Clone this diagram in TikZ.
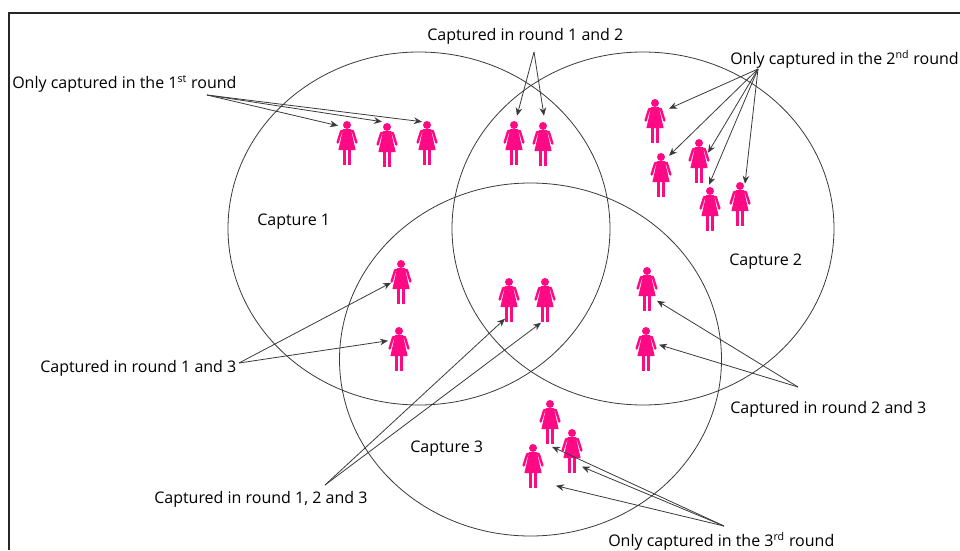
\documentclass[tikz,border=0pt]{standalone}
\usepackage{fontspec}
\setmainfont{Open Sans}
\usepackage{tikz}
\usetikzlibrary{shapes.geometric, arrows.meta, positioning}
\definecolor{womanpink}{HTML}{FF0A84}
\definecolor{lineink}{HTML}{3A3A3A}

\begin{document}
\begin{tikzpicture}[
        x=0.75pt, y=-0.75pt,
        capture/.style={ellipse, draw=lineink, line width=0.6pt, inner sep=0pt, minimum width=286.5pt, minimum height=264.75pt},
        label/.style={inner sep=0pt, anchor=west, font=\fontsize{12}{14}\selectfont},
        woman/.style={inner sep=0pt, minimum width=16.5pt, minimum height=33pt, path picture={
            \fill[womanpink] (0,-18) circle (4);
            \fill[womanpink] (-4,-13.8) -- (4,-13.8) -- (5,-9) -- (8.6,7) -- (-8.6,7) -- (-5,-9) -- cycle;
            \fill[womanpink] (-4.2,7) rectangle (-0.7,22);
            \fill[womanpink] (0.7,7) rectangle (4.2,22);
            \draw[womanpink, line width=1.8pt, line cap=round, line join=round] (-9.4,-0.5) -- (-5.8,-12) -- (5.8,-12) -- (9.4,-0.5);
        }},
        link/.style={->, draw=lineink, line width=0.6pt},
        >={Stealth[length=6pt, width=5pt]}
    ]

    \useasboundingbox (0,0) rectangle (960,550);

    % Frame
    \draw[line width=1.5pt, draw=black!85] (8.5,550) -- (8.5,12.5) -- (960,12.5);

    % Capture ellipses
    \node[capture] (capone) at (419,228.5) {};
    \node[capture] (captwo) at (643,228.5) {};
    \node[capture] (capthree) at (530.5,359.5) {};

    % Women, round 1 only
    \node[woman] (onlyonea) at (347,143) {};
    \node[woman] (onlyoneb) at (387,145) {};
    \node[woman] (onlyonec) at (427,143) {};

    % Women, round 2 only
    \node[woman] (onlytwoa) at (655,121) {};
    \node[woman] (onlytwob) at (661,175) {};
    \node[woman] (onlytwoc) at (699,161) {};
    \node[woman] (onlytwod) at (710,209) {};
    \node[woman] (onlytwoe) at (740,204) {};

    % Women, round 3 only
    \node[woman] (onlythreea) at (550,422) {};
    \node[woman] (onlythreeb) at (572,451) {};
    \node[woman] (onlythreec) at (533,466) {};

    % Women in two or three rounds
    \node[woman] (bothabl) at (514,143) {};
    \node[woman] (bothabr) at (543,144) {};
    \node[woman] (bothact) at (401,282) {};
    \node[woman] (bothacb) at (399,349) {};
    \node[woman] (allabcl) at (509,300) {};
    \node[woman] (allabcr) at (545,300) {};
    \node[woman] (bothbct) at (647,289) {};
    \node[woman] (bothbcb) at (646,349) {};

    % Ellipse names
    \node[label] (nameone) at (257,222) {Capture 1};
    \node[label] (nametwo) at (729,262) {Capture 2};
    \node[label] (namethree) at (410,449) {Capture 3};

    % Text labels
    \node[label] (textone) at (12,84) {Only captured in the 1\textsuperscript{st} round};
    \node[label] (texttwo) at (730,59) {Only captured in the 2\textsuperscript{nd} round};
    \node[label] (textthree) at (608,541) {Only captured in the 3\textsuperscript{rd} round};
    \node[label] (textab) at (427,36) {Captured in round 1 and 2};
    \node[label] (textac) at (40,368) {Captured in round 1 and 3};
    \node[label] (textbc) at (730,409) {Captured in round 2 and 3};
    \node[label] (textabc) at (154,499) {Captured in round 1, 2 and 3};

    % Where the arrows leave the labels
    \coordinate (fromone) at (207,95);
    \coordinate (fromtwo) at (758,69);
    \coordinate (fromthree) at (724,526);
    \coordinate (fromab) at (534,52);
    \coordinate (fromac) at (239,363);
    \coordinate (frombc) at (798,387);
    \coordinate (fromabc) at (325,485);

    % Arrows round 1
    \draw[link] (fromone) -- ([shift={(-9,5)}]onlyonea.north);
    \draw[link] (fromone) -- ([shift={(-5,-1)}]onlyoneb.north);
    \draw[link] (fromone) -- ([shift={(-5,1)}]onlyonec.north);

    % Arrows round 2
    \draw[link] (fromtwo) -- ([shift={(14,10)}]onlytwoa.north);
    \draw[link] (fromtwo) -- ([shift={(8,3)}]onlytwob.north);
    \draw[link] (fromtwo) -- ([shift={(9,14)}]onlytwoc.north);
    \draw[link] (fromtwo) -- ([shift={(-1,-2)}]onlytwod.north);
    \draw[link] (fromtwo) -- ([shift={(5,2)}]onlytwoe.north);

    % Arrows round 3
    \draw[link] (fromthree) -- ([shift={(2,47)}]onlythreea.north);
    \draw[link] (fromthree) -- ([shift={(10,38)}]onlythreeb.north);
    \draw[link] (fromthree) -- ([shift={(23,42)}]onlythreec.north);

    % Arrows shared rounds
    \draw[link] (fromab) -- ([shift={(3,-5)}]bothabl.north);
    \draw[link] (fromab) -- ([shift={(1,-6)}]bothabr.north);
    \draw[link] (fromac) -- ([shift={(-10,23)}]bothact.north);
    \draw[link] (fromac) -- ([shift={(-11,14)}]bothacb.north);
    \draw[link] (frombc) -- ([shift={(10,34)}]bothbct.north);
    \draw[link] (frombc) -- ([shift={(13,18)}]bothbcb.north);
    \draw[link] (fromabc) -- ([shift={(-4,41)}]allabcl.north);
    \draw[link] (fromabc) -- ([shift={(-4,45)}]allabcr.north);

\end{tikzpicture}
\end{document}
